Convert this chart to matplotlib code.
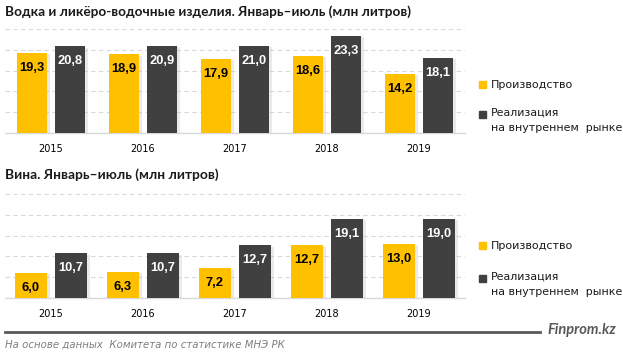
import matplotlib
matplotlib.use("Agg")
import matplotlib.pyplot as plt
import matplotlib.patheffects as pe
import numpy as np

W, H = 623, 356

years = ["2015", "2016", "2017", "2018", "2019"]
vodka_prod = [19.3, 18.9, 17.9, 18.6, 14.2]
vodka_sales = [20.8, 20.9, 21.0, 23.3, 18.1]
wine_prod = [6.0, 6.3, 7.2, 12.7, 13.0]
wine_sales = [10.7, 10.7, 12.7, 19.1, 19.0]

title_top = "Водка и ликёро-водочные изделия. Январь–июль (млн литров)"
title_bot = "Вина. Январь–июль (млн литров)"
leg_prod = "Производство"
leg_sales = "Реализация\nна внутреннем  рынке"
source = "На основе данных  Комитета по статистике МНЭ РК"

YEL = "#FFC000"
DARK = "#404040"

plt.rcParams["font.family"] = ["DejaVu Sans"]

fig = plt.figure(figsize=(W / 100, H / 100), dpi=100)


def fx(x):
    return x / W


def fy(y):
    return 1 - y / H


def draw(ax, prod, sales, width, off):
    x = np.arange(len(years))
    shadow = [pe.SimplePatchShadow(offset=(2, -1), shadow_rgbFace="#bbbbbb", alpha=0.3), pe.Normal()]
    b1 = ax.bar(x - off, prod, width, color=YEL, zorder=3)
    b2 = ax.bar(x + off, sales, width, color=DARK, zorder=3)
    for b in list(b1) + list(b2):
        b.set_path_effects(shadow)
    for bars, vals, col in ((b1, prod, "black"), (b2, sales, "white")):
        for b, v in zip(bars, vals):
            ax.annotate(f"{v:.1f}".replace(".", ","),
                        (b.get_x() + b.get_width() / 2, v),
                        xytext=(0, -15), textcoords="offset pixels",
                        ha="center", va="center", fontsize=9.3,
                        family="Liberation Sans", fontweight="bold",
                        color=col, zorder=4)
    ax.set_xlim(-0.5, len(years) - 0.5)
    ax.set_ylim(0, 25)
    ax.set_yticks([5, 10, 15, 20, 25])
    ax.yaxis.grid(True, color="#D9D9D9", linestyle=(0, (4, 3)), lw=0.8, zorder=0)
    ax.set_yticklabels([])
    ax.tick_params(axis="y", length=0)
    ax.set_xticks(x)
    ax.set_xticklabels(years, fontsize=7)
    ax.tick_params(axis="x", length=0, pad=8)
    for s in ("top", "left", "right"):
        ax.spines[s].set_visible(False)
    ax.spines["bottom"].set_color("#D9D9D9")
    ax.spines["bottom"].set_linewidth(1)


ax1 = fig.add_axes([fx(5), fy(133), fx(460), (133 - 29) / H])
draw(ax1, vodka_prod, vodka_sales, 0.33, 0.207)

ax2 = fig.add_axes([fx(5), fy(298), fx(460), (298 - 194) / H])
draw(ax2, wine_prod, wine_sales, 0.35, 0.22)

fig.text(fx(5), fy(12), title_top, fontsize=9.8, family="Lato", fontweight="bold",
         va="center", color="#1a1a1a")
fig.text(fx(5), fy(175), title_bot, fontsize=9.9, family="Lato", fontweight="bold",
         va="center", color="#1a1a1a")

for ys, yd in ((85, 115), (246, 279)):
    fig.patches.append(plt.Rectangle((fx(479), fy(ys + 3)), fx(7), 7 / H, color=YEL, transform=fig.transFigure))
    fig.patches.append(plt.Rectangle((fx(479), fy(yd + 3)), fx(7), 7 / H, color=DARK, transform=fig.transFigure))
    fig.text(fx(491), fy(ys), leg_prod, fontsize=8, va="center", color="#1a1a1a")
    fig.text(fx(491), fy(yd - 7), leg_sales, fontsize=7.9, va="top", color="#1a1a1a",
             linespacing=1.6)

fig.add_artist(plt.Line2D([fx(5), fx(540)], [fy(332), fy(332)], color="#595959", lw=2,
                          transform=fig.transFigure))
fig.text(fx(616), fy(330), "Finprom.kz", fontsize=10.5, family="Lato", fontweight="bold",
         style="italic", ha="right", va="center", color="#595959")
fig.text(fx(5), fy(345), source, fontsize=7.3, style="italic", va="center", color="#7f7f7f")

fig.savefig("out.png", dpi=100)
